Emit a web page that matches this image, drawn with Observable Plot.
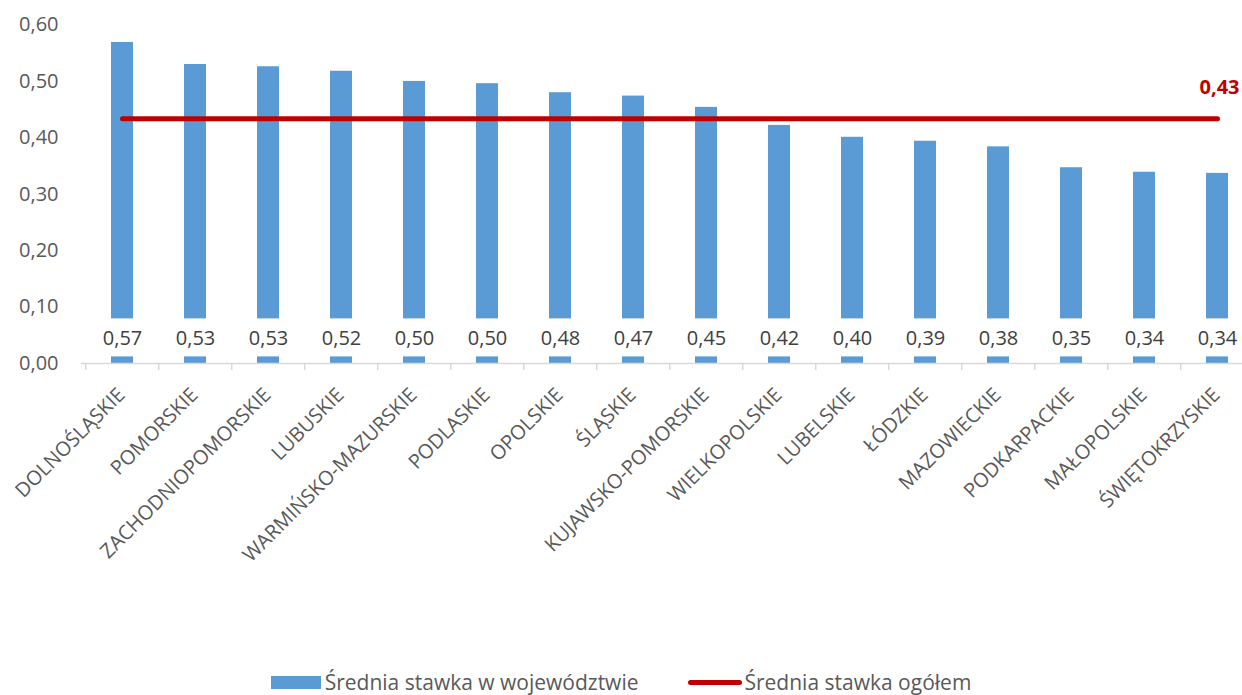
<!DOCTYPE html>
<html lang="pl">
<head>
<meta charset="utf-8">
<script src="https://cdn.jsdelivr.net/npm/d3@7"></script>
<script src="https://cdn.jsdelivr.net/npm/@observablehq/plot@0.6"></script>
<style>
  html, body { margin: 0; padding: 0; background: #fff; }
  body { width: 1242px; height: 695px; overflow: hidden; font-family: "Open Sans", sans-serif; }
  #chart { height: 660px; }
  #legend {
    display: flex; justify-content: center; align-items: center;
    height: 22px; line-height: 22px; margin-top: 11px; font-size: 21px; color: #595959;
  }
  .item { display: flex; align-items: center; }
  .sw-bar { width: 50px; height: 13px; background: #5B9BD5; margin-right: 4px; }
  .sw-line { width: 54px; height: 5px; background: #C00000; border-radius: 3px; margin-right: 2px; }
  .gap { width: 50px; }
</style>
</head>
<body>
<div id="chart"></div>
<div id="legend">
  <div class="item"><span class="sw-bar"></span><span>Średnia stawka w województwie</span></div>
  <div class="gap"></div>
  <div class="item"><span class="sw-line"></span><span>Średnia stawka ogółem</span></div>
</div>
<script>
// Voivodeships, sorted by average rate
const regions = [
  "DOLNOŚLĄSKIE", "POMORSKIE", "ZACHODNIOPOMORSKIE", "LUBUSKIE",
  "WARMIŃSKO-MAZURSKIE", "PODLASKIE", "OPOLSKIE", "ŚLĄSKIE",
  "KUJAWSKO-POMORSKIE", "WIELKOPOLSKIE", "LUBELSKIE", "ŁÓDZKIE",
  "MAZOWIECKIE", "PODKARPACKIE", "MAŁOPOLSKIE", "ŚWIĘTOKRZYSKIE"
];
const rates = [
  0.569, 0.530, 0.526, 0.518,
  0.500, 0.496, 0.480, 0.474,
  0.454, 0.422, 0.401, 0.394,
  0.384, 0.347, 0.339, 0.337
];
// Overall average rate
const overall = 0.434;
const yTicks = [0, 0.1, 0.2, 0.3, 0.4, 0.5, 0.6];

const fmt = (v) => v.toFixed(2).replace(".", ",");
const data = regions.map((region, i) => ({region, rate: rates[i]}));
const avgLine = regions.map((region) => ({region, rate: overall}));

const textColor = "#595959";
const labelColor = "#404040";
const barColor = "#5B9BD5";
const red = "#C00000";

const chart = Plot.plot({
  width: 1242,
  height: 660,
  marginLeft: 81,
  marginRight: 0,
  marginTop: 24,
  marginBottom: 297,
  style: {fontFamily: "'Open Sans', sans-serif", fontSize: "20px", color: textColor, background: "#fff"},
  x: {type: "band", domain: regions, range: [81, 1257], paddingInner: 0.7, paddingOuter: 0.35, align: 0.5},
  y: {domain: [0, 0.6], range: [363, 24.5]},
  marks: [
    Plot.barY(data, {x: "region", y: "rate", fill: barColor}),
    // axis line and tick marks between categories
    Plot.ruleY([0], {stroke: "#D9D9D9", strokeWidth: 1.5}),
    Plot.axisX({tickSize: 7, tickFormat: () => "", stroke: "#D9D9D9", strokeWidth: 1.5, dx: -36.75, label: null}),
    Plot.text(regions, {
      x: (d) => d, y: () => 0, text: (d) => d,
      rotate: -45, textAnchor: "end", lineAnchor: "middle",
      dx: -1, dy: 28, fill: textColor, fontSize: 20
    }),
    Plot.axisY({
      ticks: yTicks, tickFormat: fmt, tickSize: 0, tickPadding: 23,
      fontSize: 20, fill: textColor, label: null
    }),
    // value labels inside the base of each bar
    Plot.text(data, {
      x: "region", y: () => 0, text: (d) => fmt(d.rate),
      dy: -25, fill: labelColor, fontSize: 20, ariaDescription: "value labels"
    }),
    Plot.lineY(avgLine, {x: "region", y: "rate", stroke: red, strokeWidth: 5, strokeLinecap: "round"}),
    Plot.text([avgLine[avgLine.length - 1]], {
      x: "region", y: "rate", text: (d) => fmt(d.rate),
      dx: 2, dy: -31, fill: red, fontWeight: "bold", fontSize: 20
    })
  ]
});

document.getElementById("chart").append(chart);

// White boxes behind the value labels, as wide as a bar
const svg = d3.select(chart);
const labelGroup = svg.select('g[aria-description="value labels"]');
const bw = chart.scale("x").bandwidth;
const svgRect = chart.getBoundingClientRect();
const boxes = [];
labelGroup.selectAll("text").each(function () {
  const r = this.getBoundingClientRect();
  boxes.push({cx: r.x - svgRect.x + r.width / 2, cy: r.y - svgRect.y + r.height / 2});
});
const boxLayer = svg.insert("g", () => labelGroup.node());
boxLayer.selectAll("rect").data(boxes).join("rect")
  .attr("x", (d) => d.cx - bw / 2 - 1)
  .attr("width", bw + 2)
  .attr("y", (d) => d.cy - 19)
  .attr("height", 38)
  .attr("fill", "#fff");
</script>
</body>
</html>
